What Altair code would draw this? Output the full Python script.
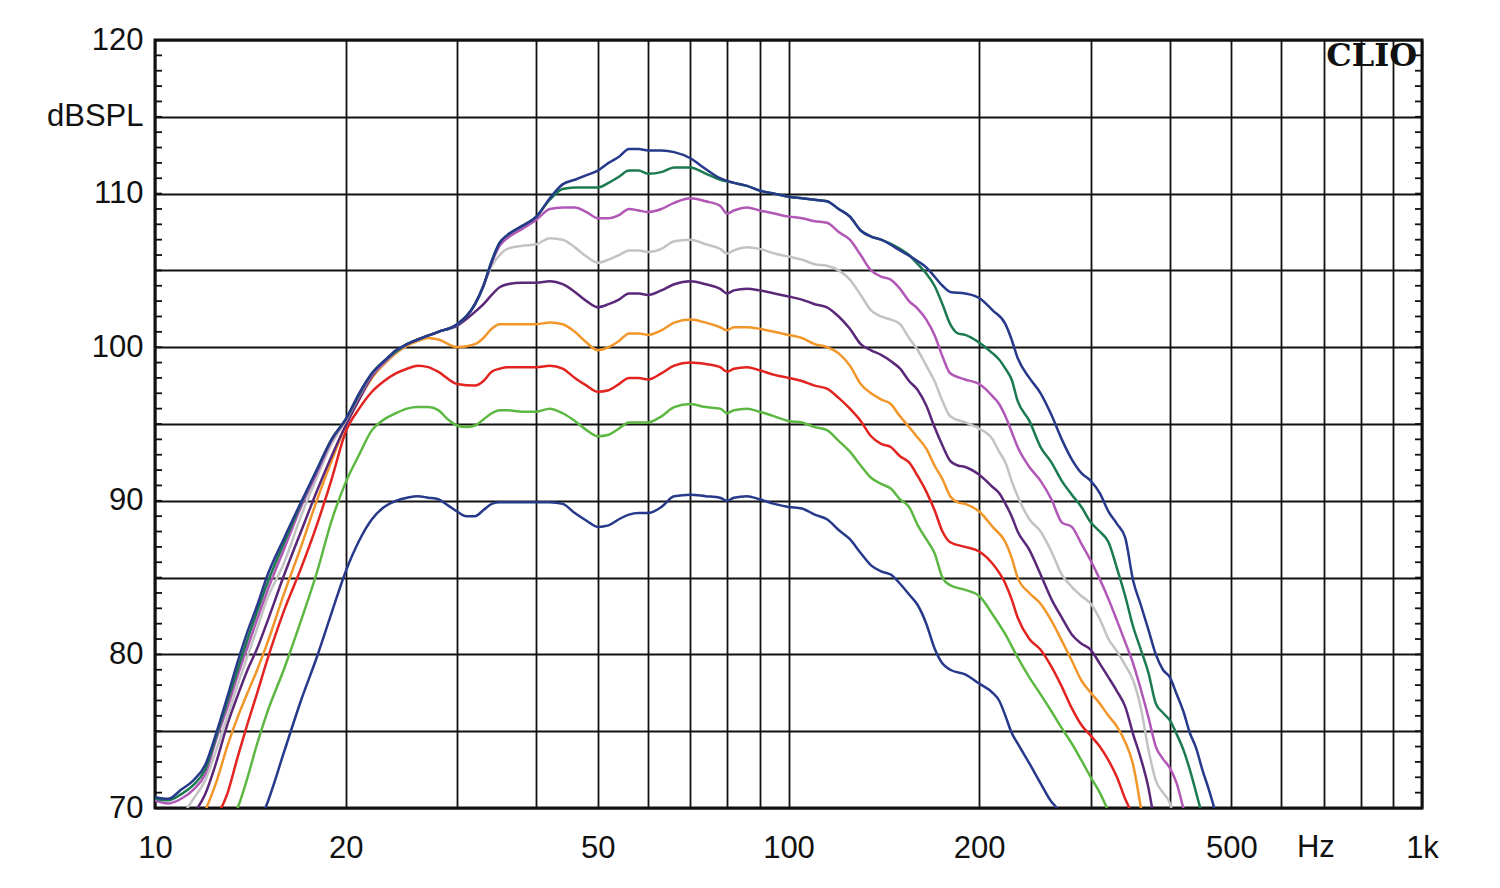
import altair as alt
import pandas as pd

# ---- data (frequency Hz, level dB SPL) ----
c1_low_navy = [(14.5,68.8),(15,70.2),(16,73.7),(17,77.0),(18,79.8),(19,82.7),(20,85.4),(21,87.4),(22,88.8),(23,89.6),(24,90.0),(25,90.2),(26,90.3),(27,90.2),(28,90.1),(29,89.7),(30,89.3),(31,89.0),(32,89.0),(33,89.4),(34,89.8),(35,89.9),(36,89.9),(38,89.9),(40,89.9),(42,89.9),(44,89.8),(46,89.2),(48,88.7),(50,88.3),(52,88.4),(54,88.8),(56,89.1),(58,89.2),(60,89.2),(63,89.6),(66,90.3),(70,90.4),(74,90.3),(78,90.2),(80,90.0),(82,90.2),(86,90.3),(90,90.1),(95,89.8),(100,89.6),(105,89.5),(110,89.1),(115,88.8),(120,88.1),(125,87.5),(130,86.6),(135,85.8),(140,85.4),(145,85.2),(150,84.6),(155,83.9),(160,83.2),(165,82.0),(170,80.4),(175,79.4),(180,79.0),(190,78.7),(200,78.1),(210,77.5),(215,77.0),(220,76.0),(225,74.9),(230,74.2),(240,72.9),(250,71.6),(260,70.4),(265,70.0),(275,68.0)]

c2_green = [(13,68.8),(13.5,70.0),(14,72.0),(14.5,74.2),(15,76.1),(16,79.1),(17,82.2),(18,85.3),(19,88.7),(20,91.2),(21,93.0),(22,94.6),(23,95.3),(24,95.7),(25,96.0),(26,96.1),(27,96.1),(28,95.9),(29,95.3),(30,94.9),(31,94.8),(32,94.9),(33,95.3),(34,95.7),(35,95.9),(36,95.9),(38,95.8),(40,95.8),(42,96.0),(44,95.7),(46,95.2),(48,94.6),(50,94.2),(52,94.3),(54,94.7),(56,95.1),(58,95.1),(60,95.1),(63,95.5),(66,96.1),(70,96.3),(74,96.1),(78,96.0),(80,95.7),(82,95.9),(86,96.0),(90,95.8),(95,95.5),(100,95.2),(105,95.1),(110,94.8),(115,94.6),(120,93.9),(125,93.2),(130,92.3),(135,91.5),(140,91.1),(145,90.8),(150,90.1),(155,89.6),(160,88.4),(165,87.5),(170,86.6),(175,85.0),(180,84.5),(190,84.2),(200,83.8),(210,82.6),(220,81.3),(230,79.8),(240,78.5),(250,77.4),(260,76.3),(270,75.2),(280,74.2),(290,73.1),(300,72.0),(310,71.0),(318,70.0),(330,68.0)]

c3_red = [(12.5,69.4),(13,70.9),(13.5,73.3),(14,75.5),(14.5,77.5),(15,79.5),(16,82.9),(17,85.6),(18,88.4),(19,91.4),(20,94.5),(21,96.0),(22,97.1),(23,97.8),(24,98.3),(25,98.6),(26,98.8),(27,98.7),(28,98.4),(30,97.6),(32,97.5),(33,97.8),(34,98.4),(35,98.6),(36,98.7),(38,98.7),(40,98.7),(42,98.8),(44,98.6),(46,98.0),(48,97.5),(50,97.1),(52,97.2),(54,97.6),(56,98.0),(58,98.0),(60,97.9),(63,98.3),(66,98.8),(70,99.0),(74,98.9),(78,98.7),(80,98.4),(82,98.6),(86,98.7),(90,98.5),(95,98.2),(100,98.0),(105,97.8),(110,97.5),(115,97.3),(120,96.7),(125,96.0),(130,95.2),(135,94.2),(140,93.7),(145,93.5),(150,92.9),(155,92.5),(160,91.6),(165,90.6),(170,89.4),(175,88.0),(180,87.3),(190,87.0),(200,86.7),(210,85.9),(220,84.6),(225,83.6),(230,82.4),(240,81.0),(250,80.3),(260,79.2),(270,77.9),(280,76.5),(290,75.4),(300,74.7),(310,74.0),(320,73.1),(330,72.0),(340,70.6),(345,70.0),(355,68.0)]

c4_orange = [(12,69.8),(12.5,71.7),(13,74.0),(13.5,75.9),(14,77.5),(14.5,79.0),(15,80.6),(16,84.0),(17,87.0),(18,90.0),(19,92.6),(20,94.9),(21,96.6),(22,98.0),(23,98.9),(24,99.6),(25,100.1),(26,100.4),(27,100.6),(28,100.5),(30,100.0),(32,100.2),(33,100.6),(34,101.2),(35,101.5),(36,101.5),(38,101.5),(40,101.5),(42,101.6),(44,101.5),(46,101.0),(48,100.3),(50,99.8),(52,100.0),(54,100.4),(56,100.9),(58,100.9),(60,100.8),(63,101.1),(66,101.6),(70,101.8),(74,101.6),(78,101.3),(80,101.1),(82,101.3),(86,101.3),(90,101.2),(95,101.0),(100,100.8),(105,100.6),(110,100.2),(115,100.0),(120,99.6),(125,98.8),(130,97.6),(135,97.0),(140,96.6),(145,96.3),(150,95.5),(155,94.8),(160,94.1),(165,93.4),(170,92.3),(175,91.4),(180,90.3),(185,89.9),(190,89.8),(200,89.3),(210,88.3),(220,87.3),(225,86.3),(230,85.0),(240,84.0),(250,83.3),(260,82.2),(270,80.9),(280,79.6),(290,78.3),(300,77.5),(310,76.8),(320,76.0),(330,75.3),(340,74.3),(350,72.8),(355,71.5),(360,70.0),(370,68.0)]

c5_purple = [(11,68.5),(11.5,69.6),(12,70.9),(12.5,73.0),(13,75.4),(13.5,77.3),(14,79.0),(14.5,80.4),(15,82.0),(16,85.2),(17,88.0),(18,90.6),(19,92.9),(20,94.9),(21,96.6),(22,98.1),(23,99.0),(24,99.7),(25,100.2),(26,100.5),(28,101.0),(30,101.4),(32,102.3),(33,102.8),(34,103.4),(35,103.9),(36,104.1),(38,104.2),(40,104.2),(42,104.3),(44,104.1),(46,103.6),(48,103.0),(50,102.6),(52,102.8),(54,103.1),(56,103.5),(58,103.5),(60,103.4),(63,103.7),(66,104.1),(70,104.3),(74,104.1),(78,103.8),(80,103.5),(82,103.7),(86,103.8),(90,103.7),(95,103.5),(100,103.3),(105,103.1),(110,102.8),(115,102.6),(120,102.0),(125,101.2),(130,100.2),(135,99.8),(140,99.5),(145,99.1),(150,98.6),(155,97.8),(160,97.2),(165,96.2),(170,94.8),(175,93.6),(180,92.6),(185,92.3),(190,92.2),(200,91.7),(210,90.9),(215,90.5),(220,89.8),(225,89.0),(230,88.0),(240,86.8),(250,85.2),(260,83.6),(270,82.4),(280,81.3),(290,80.7),(300,80.3),(310,79.4),(320,78.5),(330,77.6),(340,76.6),(350,74.8),(360,73.2),(370,71.3),(375,70.0),(385,68.0)]

c6_gray = [(10,67.5),(11,69.4),(11.5,70.6),(12,71.8),(12.5,73.8),(13,75.9),(13.5,78.0),(14,79.9),(14.5,81.7),(15,83.5),(16,86.0),(17,89.0),(18,91.5),(19,93.7),(20,95.2),(21,96.8),(22,98.2),(23,99.0),(24,99.7),(25,100.2),(26,100.5),(28,101.0),(30,101.5),(32,102.8),(33,104.0),(34,105.3),(35,106.0),(36,106.4),(38,106.6),(40,106.7),(42,107.1),(44,107.0),(46,106.5),(48,105.9),(50,105.5),(52,105.7),(54,106.0),(56,106.3),(58,106.3),(60,106.2),(63,106.4),(66,106.9),(70,107.0),(74,106.7),(78,106.4),(80,106.1),(82,106.3),(86,106.5),(90,106.4),(95,106.1),(100,105.9),(105,105.7),(110,105.4),(115,105.3),(120,105.0),(125,104.4),(130,103.4),(135,102.4),(140,102.0),(145,101.8),(150,101.5),(155,100.6),(160,99.8),(165,98.8),(170,97.8),(175,96.5),(180,95.5),(190,95.1),(200,94.7),(210,94.0),(215,93.2),(220,92.5),(225,91.3),(230,90.3),(240,88.8),(250,88.0),(260,86.7),(270,85.2),(280,84.4),(290,83.8),(300,83.3),(310,82.3),(320,81.0),(330,80.2),(340,79.3),(350,78.3),(360,76.5),(370,73.8),(380,71.8),(390,71.0),(400,70.3),(405,69.5),(420,68.0)]

c7_magenta = [(10,70.5),(10.5,70.3),(11,70.6),(11.5,71.2),(12,72.2),(12.5,74.5),(13,76.5),(13.5,78.6),(14,80.5),(14.5,82.3),(15,84.0),(16,86.9),(17,89.6),(18,91.8),(19,93.9),(20,95.3),(21,96.8),(22,98.2),(23,99.0),(24,99.7),(25,100.2),(26,100.5),(28,101.0),(30,101.5),(32,102.8),(33,104.0),(34,105.5),(35,106.6),(36,107.1),(38,107.7),(40,108.3),(42,109.0),(44,109.1),(46,109.1),(48,108.8),(50,108.4),(52,108.4),(54,108.6),(56,109.0),(58,108.9),(60,108.8),(63,109.0),(66,109.4),(70,109.7),(74,109.5),(78,109.2),(80,108.7),(82,108.9),(86,109.1),(90,108.9),(95,108.7),(100,108.5),(105,108.4),(110,108.2),(115,108.1),(120,107.5),(125,107.0),(130,106.0),(135,105.0),(140,104.6),(145,104.4),(150,103.8),(155,103.0),(160,102.5),(165,101.8),(170,100.8),(175,99.4),(180,98.3),(190,97.9),(200,97.6),(210,96.8),(215,96.3),(220,95.5),(225,94.5),(230,93.5),(240,92.2),(250,91.3),(260,90.1),(270,88.6),(280,88.3),(290,87.2),(300,86.1),(310,84.9),(320,83.6),(330,82.2),(340,80.8),(350,79.4),(360,77.7),(370,75.9),(380,74.0),(390,73.2),(400,72.6),(410,71.6),(420,70.0),(430,68.5)]

c8_dark_green = [(10,70.6),(10.5,70.5),(11,70.9),(11.5,71.5),(12,72.5),(12.5,74.7),(13,76.9),(13.5,79.0),(14,81.0),(14.5,82.8),(15,84.5),(16,87.3),(17,89.8),(18,92.0),(19,94.0),(20,95.3),(21,96.9),(22,98.3),(23,99.1),(24,99.7),(25,100.2),(26,100.5),(28,101.0),(30,101.5),(32,102.8),(33,104.0),(34,105.6),(35,106.8),(36,107.3),(38,107.9),(40,108.5),(42,109.6),(44,110.3),(46,110.4),(48,110.4),(50,110.4),(52,110.7),(54,111.1),(56,111.5),(58,111.5),(60,111.3),(63,111.4),(66,111.7),(70,111.7),(74,111.3),(78,110.9),(82,110.7),(86,110.5),(90,110.2),(95,110.0),(100,109.8),(105,109.7),(110,109.6),(115,109.5),(120,109.0),(125,108.5),(130,107.6),(135,107.2),(140,107.0),(150,106.4),(155,106.0),(160,105.4),(165,104.8),(170,104.0),(175,102.8),(180,101.5),(185,100.9),(190,100.8),(200,100.3),(210,99.6),(215,99.2),(220,98.6),(225,97.9),(230,96.5),(240,95.2),(250,93.5),(260,92.5),(270,91.3),(280,90.4),(290,89.6),(300,88.6),(310,88.0),(320,87.3),(330,85.6),(340,83.8),(350,81.8),(360,80.3),(370,78.8),(380,76.8),(390,76.2),(400,75.7),(410,74.8),(420,73.8),(430,72.5),(440,71.0),(450,69.5),(460,68.0)]

c9_top_navy = [(10,70.7),(10.5,70.6),(11,71.2),(11.5,71.8),(12,72.8),(12.5,74.9),(13,77.2),(13.5,79.5),(14,81.5),(14.5,83.2),(15,85.0),(16,87.6),(17,89.9),(18,92.0),(19,94.0),(20,95.3),(21,97.0),(22,98.3),(23,99.1),(24,99.8),(25,100.2),(26,100.5),(28,101.0),(30,101.5),(32,102.8),(33,104.0),(34,105.6),(35,106.8),(36,107.3),(38,107.9),(40,108.5),(42,109.7),(44,110.6),(46,110.9),(48,111.2),(50,111.5),(52,112.0),(54,112.4),(56,112.9),(58,112.9),(60,112.8),(63,112.8),(66,112.7),(70,112.3),(74,111.6),(78,111.0),(82,110.7),(86,110.5),(90,110.2),(95,110.0),(100,109.8),(105,109.7),(110,109.6),(115,109.5),(120,109.0),(125,108.5),(130,107.6),(135,107.2),(140,107.0),(150,106.3),(160,105.6),(165,105.2),(170,104.6),(175,104.0),(180,103.6),(190,103.5),(200,103.2),(210,102.4),(220,101.5),(225,100.5),(230,99.3),(240,98.0),(250,97.0),(260,95.6),(270,94.0),(280,92.7),(290,91.8),(300,91.3),(310,90.5),(320,89.3),(330,88.5),(340,87.6),(350,84.8),(360,83.2),(370,81.6),(380,80.0),(390,79.0),(400,78.5),(410,77.4),(420,76.3),(430,74.9),(440,73.9),(450,72.5),(460,71.3),(470,70.0),(480,68.5)]

series = [
    ("1", c1_low_navy, "#26398a"),
    ("2", c2_green, "#5cb842"),
    ("3", c3_red, "#e2231f"),
    ("4", c4_orange, "#f2962a"),
    ("5", c5_purple, "#5b2778"),
    ("6", c6_gray, "#c3c3c3"),
    ("7", c7_magenta, "#b157b6"),
    ("8", c8_dark_green, "#1b7a50"),
    ("9", c9_top_navy, "#26398a"),
]

grid_x = [10, 20, 30, 40, 50, 60, 70, 80, 90, 100, 200, 300, 400, 500, 600, 700, 800, 900, 1000]
grid_y = [70, 75, 80, 85, 90, 95, 100, 105, 110, 115, 120]
minor_y = list(range(71, 120))
x_labels = [10, 20, 50, 100, 200, 500]

rows = []
for name, pts, _ in series:
    for f, db in pts:
        rows.append({"series": name, "f": f, "db": db})
df = pd.DataFrame(rows)

W, H = 1267, 768
FONT = "Liberation Sans"

xscale = alt.Scale(type="log", domain=[10, 1000], nice=False)
yscale = alt.Scale(domain=[70, 120], nice=False, zero=False)

x_label_expr = ("datum.value == 1000 ? '1k' : (indexof(%s, datum.value) >= 0 ? '' + datum.value : '')"
                % str(x_labels))
y_label_expr = "datum.value == 115 ? 'dBSPL' : (datum.value % 10 == 0 ? '' + datum.value : '')"

lines = alt.Chart(df).mark_line(clip=True, strokeWidth=2.5, interpolate="monotone").encode(
    x=alt.X("f:Q", scale=xscale, axis=alt.Axis(
        values=grid_x, title=None, grid=True, gridColor="#111111", gridWidth=1.8,
        ticks=False, tickSize=0, domain=False, labelExpr=x_label_expr, labelOverlap=False,
        labelFlush=False, labelFont=FONT, labelFontSize=31, labelColor="#111111",
        labelBaseline="middle", labelPadding=40)),
    y=alt.Y("db:Q", scale=yscale, axis=alt.Axis(
        values=grid_y, title=None, grid=True, gridColor="#111111", gridWidth=1.8,
        ticks=False, tickSize=0, domain=False, labelExpr=y_label_expr, labelOverlap=False,
        labelFlush=False, labelFont=FONT, labelFontSize=31, labelColor="#111111",
        labelBaseline="middle", labelPadding=12)),
    color=alt.Color("series:N", scale=alt.Scale(domain=[s[0] for s in series],
                                                range=[s[2] for s in series]), legend=None),
)

tick_df = pd.DataFrame({"v": minor_y})
left_ticks = alt.Chart(tick_df).mark_rule(color="#111111", strokeWidth=1.8).encode(
    y=alt.Y("v:Q", scale=yscale), x=alt.value(0), x2=alt.value(7))
right_ticks = alt.Chart(tick_df).mark_rule(color="#111111", strokeWidth=1.8).encode(
    y=alt.Y("v:Q", scale=yscale), x=alt.value(W - 7), x2=alt.value(W))

hz = alt.Chart(pd.DataFrame({"f": [680], "t": ["Hz"]})).mark_text(
    font=FONT, fontSize=31, color="#111111", baseline="middle", align="center").encode(
    x=alt.X("f:Q", scale=xscale), y=alt.value(H + 40), text="t:N")

clio = alt.Chart(pd.DataFrame({"f": [1000], "db": [118.95], "t": ["CLIO"]})).mark_text(
    font="DejaVu Serif", fontWeight="bold", fontSize=32, color="#111111",
    baseline="middle", align="right", dx=-5).encode(
    x=alt.X("f:Q", scale=xscale), y=alt.Y("db:Q", scale=yscale), text="t:N")

chart = alt.layer(lines, left_ticks, right_ticks, hz, clio).properties(
    width=W, height=H,
    autosize=alt.AutoSizeParams(type="none"),
    padding={"left": 155, "top": 40, "right": 78, "bottom": 80},
    background="white",
).configure_view(stroke="#111111", strokeWidth=3)

chart.save("out.html", embed_options={"renderer": "svg", "actions": False})
